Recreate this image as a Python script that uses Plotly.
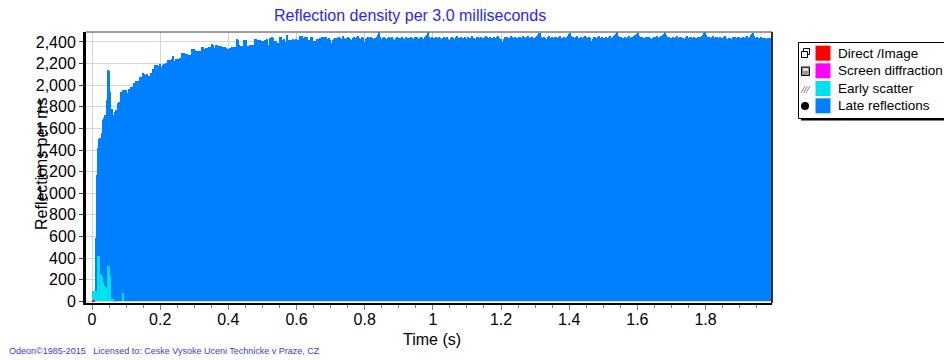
import numpy as np
import plotly.graph_objects as go

# Histogram bin width: 3.0 ms
BIN_S = 0.003

# Reflections per ms in consecutive 3 ms bins, starting at t = 0
direct_image = [2]
screen_diffraction = [4, 4]
early_scatter = [98, 98, 98, 98, 98, 421, 421, 252, 252, 228, 182, 141, 141, 120, 120,
                 326, 326, 230, 20, 20, 20, 10, 0, 0, 0, 0, 0, 0, 0, 0, 76]
late_reflections = [
    0, 0, 0, 583,
    1167, 1414, 1500, 1510, 1507, 1553, 1680, 1692, 1722, 1720, 1861, 2138, 2130, 1938, 1784, 1780, 1722, 1725, 1753, 1768,
    1765, 1836, 1840, 1832, 1938, 1940, 1953, 1950, 1955, 1952, 1922, 1925, 1960, 1958, 1984, 1980, 1986, 2021, 2018, 2036,
    2040, 2034, 2076, 2072, 2030, 2108, 2104, 2098, 2095, 2100, 2086, 2088, 2084, 2113, 2110, 2154, 2150, 2184, 2180, 2186,
    2178, 2175, 2200, 2169, 2166, 2191, 2200, 2198, 2203, 2196, 2231, 2228, 2237, 2235, 2240, 2268, 2224, 2226, 2240, 2238,
    2243, 2246, 2250, 2244, 2298, 2294, 2287, 2284, 2290, 2278, 2275, 2281, 2276, 2332, 2330, 2335, 2330, 2317, 2314, 2320,
    2316, 2312, 2318, 2354, 2356, 2339, 2336, 2341, 2348, 2345, 2350, 2346, 2349, 2379, 2376, 2345, 2342, 2369, 2372, 2366,
    2363, 2360, 2364, 2354, 2351, 2356, 2352, 2348, 2339, 2336, 2348, 2345, 2352, 2349, 2354, 2350, 2356, 2425, 2420, 2369,
    2363, 2366, 2362, 2365, 2416, 2412, 2418, 2360, 2358, 2362, 2369, 2366, 2372, 2368, 2365, 2431, 2428, 2416, 2412, 2418,
    2414, 2410, 2409, 2405, 2412, 2422, 2418, 2425, 2369, 2372, 2440, 2436, 2444, 2438, 2409, 2405, 2391, 2394, 2388, 2446,
    2442, 2422, 2418, 2425, 2400, 2404, 2462, 2416, 2420, 2412, 2418, 2422, 2426, 2420, 2418, 2424, 2416, 2412, 2418, 2456,
    2452, 2458, 2440, 2436, 2444, 2438, 2442, 2416, 2412, 2420, 2446, 2448, 2409, 2404, 2412, 2406, 2431, 2428, 2434, 2426,
    2446, 2442, 2448,
    2438, 2444, 2420, 2426, 2432, 2418, 2394, 2390, 2421, 2430, 2436, 2441, 2428, 2433, 2447, 2439, 2425, 2431, 2452, 2440,
    2419, 2424, 2437, 2445, 2433, 2428, 2398, 2416, 2434, 2442, 2438, 2429, 2444, 2451, 2436, 2423, 2430, 2446, 2437, 2401,
    2425, 2439, 2443, 2432, 2427, 2448, 2436, 2420, 2429, 2441, 2434, 2446, 2462, 2488, 2447, 2430, 2421, 2438, 2444, 2435,
    2410, 2426, 2440, 2449, 2437, 2431, 2443, 2428, 2396, 2419, 2436, 2445, 2432, 2440, 2427, 2434, 2448, 2438, 2422, 2429,
    2445, 2439, 2426, 2433, 2450, 2437, 2415, 2428, 2442, 2436, 2447, 2431, 2424, 2439, 2444, 2433, 2405, 2430, 2446, 2452,
    2466, 2490, 2448, 2436, 2429, 2442, 2437, 2423, 2440, 2449, 2432, 2427, 2444, 2438, 2413, 2425, 2441, 2450, 2436, 2430,
    2443, 2431, 2395, 2420, 2438, 2447, 2434, 2429, 2445, 2451, 2437, 2424, 2433, 2446, 2440, 2426, 2435, 2448, 2419, 2431,
    2444, 2439, 2427, 2436, 2453, 2441, 2432, 2407, 2428, 2443, 2450, 2437, 2429, 2445, 2438, 2424, 2433, 2447, 2455, 2442,
    2430, 2436, 2449, 2434, 2421, 2440, 2446, 2433, 2427, 2444, 2451, 2438, 2425, 2398, 2392, 2431, 2443, 2437, 2448, 2435,
    2426, 2441, 2452, 2444, 2433, 2428, 2446, 2439, 2424, 2436, 2449, 2443, 2431, 2437, 2458, 2446, 2434, 2429, 2442, 2451,
    2438, 2426, 2443, 2449, 2436, 2415, 2433, 2446, 2452, 2468, 2479, 2487, 2450, 2441, 2433, 2447, 2438, 2427, 2444, 2453,
    2440, 2431, 2446, 2437, 2425, 2442, 2450, 2436, 2429, 2444, 2455, 2441, 2403, 2432, 2447, 2438, 2426, 2443, 2451, 2472,
    2484, 2455, 2439, 2446, 2433, 2428, 2444, 2452, 2438, 2425, 2441, 2449, 2436, 2430, 2445, 2454, 2442, 2431, 2437, 2448,
    2435, 2411, 2429, 2443, 2450, 2439, 2427, 2444, 2453, 2440, 2432, 2446, 2438, 2424, 2441, 2449, 2436, 2429, 2445, 2452,
    2439, 2426, 2443, 2451, 2460, 2475, 2489, 2458, 2442, 2434, 2447, 2438, 2420, 2436, 2448, 2441, 2430, 2445, 2452, 2437,
    2428, 2444, 2439, 2451, 2463, 2478, 2486, 2459, 2443, 2435, 2449, 2440, 2426, 2437, 2450, 2444, 2432, 2446, 2438, 2399,
    2425, 2441, 2448, 2436, 2443, 2455, 2439, 2430, 2446, 2452, 2441, 2466, 2477, 2491, 2460, 2444, 2433, 2447, 2438, 2426,
    2441, 2450, 2437, 2431, 2445, 2453, 2440, 2428, 2443, 2449, 2436, 2408, 2430, 2444, 2451, 2439, 2427, 2442, 2448, 2437,
    2433, 2446, 2440, 2425, 2438, 2450, 2443, 2431, 2447, 2456, 2468, 2480, 2488, 2461, 2445, 2434, 2449, 2440, 2429, 2443,
    2451, 2438, 2426, 2442, 2447, 2435, 2430, 2444, 2439, 2422, 2433, 2446, 2452, 2440, 2427, 2441, 2437, 2413, 2430, 2445,
    2438, 2449, 2436, 2428, 2443, 2450, 2439, 2426, 2441, 2447, 2435, 2431, 2444, 2452, 2440, 2429, 2446, 2464, 2476, 2485,
    2458, 2440, 2432, 2445, 2437, 2424, 2439, 2446, 2433, 2427, 2441, 2435, 2418, 2430, 2438, 2426, 2433, 2420,
]

series = [
    ("Late reflections", late_reflections, "#0080FF"),
    ("Early scatter", early_scatter, "#00E1F0"),
    ("Screen diffraction", screen_diffraction, "#FF00FF"),
    ("Direct /Image", direct_image, "#FF0000"),
]

FONT = "Arial, 'Liberation Sans', sans-serif"
W, H = 944, 360
L, R, T, B = 86, 772, 32, 303


def px(x):
    return (x - L) / (R - L)


def py(y):
    return (B - y) / (B - T)


fig = go.Figure()
for name, vals, color in series:
    centers = (np.arange(len(vals)) + 0.5) * BIN_S
    fig.add_trace(go.Bar(
        x=centers, y=vals, width=BIN_S, name=name,
        marker=dict(color=color, line=dict(width=0)),
        showlegend=False,
    ))

shapes = []
annotations = []

# top and right frame of the plot area
shapes.append(dict(type="line", xref="paper", yref="paper", x0=0, x1=1, y0=1, y1=1,
                   line=dict(color="#7A7A7A", width=1.5)))
shapes.append(dict(type="line", xref="paper", yref="paper", x0=1, x1=1, y0=0, y1=1,
                   line=dict(color="#303030", width=2)))

# legend box with drop shadow
shapes.append(dict(type="rect", xref="paper", yref="paper", x0=px(801), x1=px(960),
                   y0=py(120.5), y1=py(45), fillcolor="black", line=dict(width=0)))
shapes.append(dict(type="rect", xref="paper", yref="paper", x0=px(798.5), x1=px(960),
                   y0=py(118.5), y1=py(42.5), fillcolor="white", line=dict(color="black", width=1)))

row_tops = [45.7, 63.3, 81.0, 98.3]
legend_order = ["Direct /Image", "Screen diffraction", "Early scatter", "Late reflections"]
colors = {n: c for n, _, c in series}
for top, name in zip(row_tops, legend_order):
    shapes.append(dict(type="rect", xref="paper", yref="paper", x0=px(815.5), x1=px(830.5),
                       y0=py(top + 15), y1=py(top), fillcolor=colors[name], line=dict(width=0)))
    annotations.append(dict(text=name, xref="paper", yref="paper", x=px(836), y=py(top + 7.5),
                            xanchor="left", yanchor="middle", showarrow=False,
                            font=dict(family=FONT, size=13.5, color="black")))

# small legend icons
shapes.append(dict(type="rect", xref="paper", yref="paper", x0=px(803.5), x1=px(809.5),
                   y0=py(54.5), y1=py(48.5), fillcolor="white", line=dict(color="black", width=1)))
shapes.append(dict(type="rect", xref="paper", yref="paper", x0=px(801.5), x1=px(807.5),
                   y0=py(57.5), y1=py(51.5), fillcolor="white", line=dict(color="black", width=1)))
shapes.append(dict(type="rect", xref="paper", yref="paper", x0=px(801.5), x1=px(809.5),
                   y0=py(75.5), y1=py(67), fillcolor="#9A9A9A", line=dict(color="black", width=1)))
shapes.append(dict(type="rect", xref="paper", yref="paper", x0=px(803), x1=px(808),
                   y0=py(70.5), y1=py(68.5), fillcolor="white", line=dict(width=0)))
for dx in (0, 2.5, 5):
    shapes.append(dict(type="line", xref="paper", yref="paper", x0=px(801 + dx), x1=px(805 + dx),
                       y0=py(93), y1=py(86), line=dict(color="#8C8C8C", width=1)))
shapes.append(dict(type="circle", xref="paper", yref="paper", x0=px(801), x1=px(809),
                   y0=py(110), y1=py(102), fillcolor="black", line=dict(width=0)))

# titles and footer
annotations.append(dict(text="Reflection density per 3.0 milliseconds", xref="paper", yref="paper",
                        x=px(410), y=py(16), xanchor="center", yanchor="middle", showarrow=False,
                        font=dict(family=FONT, size=16, color="#2828F5")))
annotations.append(dict(text="Reflections per ms", xref="paper", yref="paper", textangle=-90,
                        x=px(41), y=py(164), xanchor="center", yanchor="middle", showarrow=False,
                        font=dict(family=FONT, size=16, color="black")))
annotations.append(dict(text="Time (s)", xref="paper", yref="paper",
                        x=px(432), y=py(339), xanchor="center", yanchor="middle", showarrow=False,
                        font=dict(family=FONT, size=16, color="black")))
annotations.append(dict(text="Odeon\u00a91985-2015   Licensed to: Ceske Vysoke Uceni Technicke v Praze, CZ",
                        xref="paper", yref="paper", x=px(7), y=py(351), xanchor="left", yanchor="middle",
                        showarrow=False, font=dict(family=FONT, size=9, color="#3A3AE6")))

fig.update_layout(
    width=W, height=H,
    margin=dict(l=L, r=W - R, t=T, b=H - B, pad=0),
    paper_bgcolor="white", plot_bgcolor="white",
    barmode="overlay", bargap=0,
    showlegend=False,
    font=dict(family=FONT, size=16, color="black"),
    shapes=shapes, annotations=annotations,
    xaxis=dict(
        range=[-0.0176, 1.995], dtick=0.2, tick0=0,
        showgrid=True, gridcolor="#D4D4D4", gridwidth=1, zeroline=False,
        showline=True, linecolor="black", linewidth=2,
        ticks="outside", ticklen=5, tickcolor="#808080", ticklabelstandoff=-4,
        minor=dict(dtick=0.05, tick0=0, ticks="outside", ticklen=3, tickcolor="#808080", showgrid=False),
        tickfont=dict(family=FONT, size=16, color="black"),
    ),
    yaxis=dict(
        range=[-16, 2492], dtick=200, tick0=0, tickformat=",d",
        showgrid=True, gridcolor="#D4D4D4", gridwidth=1, zeroline=False,
        showline=True, linecolor="black", linewidth=3,
        ticks="outside", ticklen=4, tickcolor="#404040",
        tickfont=dict(family=FONT, size=16, color="black"),
    ),
)

fig.write_html("out.html")
